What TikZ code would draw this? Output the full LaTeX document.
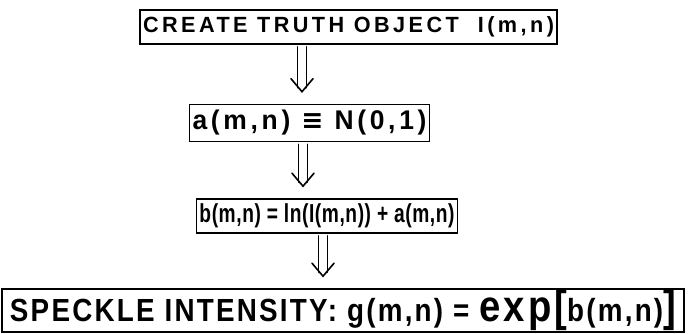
\documentclass[tikz,border=0pt]{standalone}
\usepackage{fontspec}
\usepackage{graphicx}
\setmainfont{Liberation Sans}
\newfontfamily\symfont{DejaVu Sans}
\newcommand{\fittext}[4]{\resizebox{#1}{\height}{\fontsize{#2}{#2}\selectfont\addfontfeatures{LetterSpace=#3}#4}}
\begin{document}
\begin{tikzpicture}[x=1pt,y=-1pt,
  box/.style={draw,line width=1.6pt,inner sep=0pt,font=\bfseries},
  dblarrow/.style={line width=1.6pt,line cap=round,line join=miter}]
\useasboundingbox (0,0) rectangle (692,333);
\node[box,minimum width=417pt,minimum height=34pt] (b1) at (348.5,27)
  {\fittext{411pt}{22}{16}{CREATE TRUTH OBJECT\ \ I(m,n)}};
\node[box,minimum width=240pt,minimum height=37pt] (b2) at (309.5,123)
  {\fittext{234pt}{27}{14}{a(m,n) {\symfont ≡} N(0,1)}};
\node[box,minimum width=261pt,minimum height=34pt] (b3) at (327,216)
  {\fittext{255pt}{26}{3}{b(m,n) = ln(I(m,n)) + a(m,n)}};
\node[box,minimum width=682pt,minimum height=43pt] (b4) at (343,310.5)
  {\fittext{666pt}{32}{8}{SPECKLE INTENSITY: g(m,n) = {\fontsize{44}{44}\selectfont exp}{\fontsize{44}{44}\selectfont [}b(m,n){\fontsize{44}{44}\selectfont ]}}};
% double arrows
\foreach \a/\b/\x in {b1/b2/302, b2/b3/303, b3/b4/323}{
  \coordinate (t) at (\a.south -| \x,0);
  \coordinate (h) at (\b.north -| \x,0);
  \draw[dblarrow] ([xshift=-4.5pt,yshift=-2pt]t) -- ([xshift=-4.5pt,yshift=16pt]h);
  \draw[dblarrow] ([xshift=4.5pt,yshift=-2pt]t) -- ([xshift=4.5pt,yshift=16pt]h);
  \draw[dblarrow] ([xshift=-11pt,yshift=25pt]h) -- ([yshift=12pt]h) -- ([xshift=11pt,yshift=25pt]h);
}
\end{tikzpicture}
\end{document}
